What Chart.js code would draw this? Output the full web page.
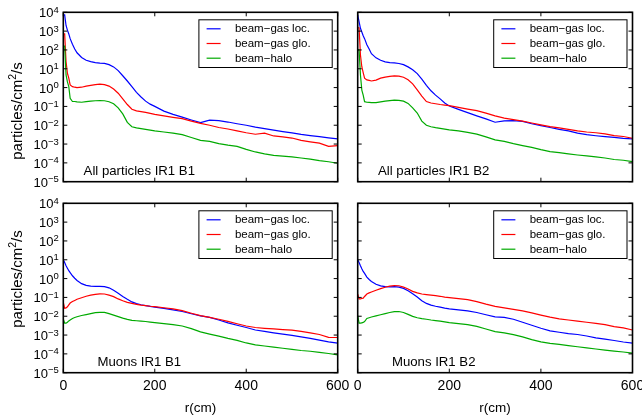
<!DOCTYPE html>
<html lang="en">
<head>
<meta charset="UTF-8" />
<title>Particle flux vs r, IR1</title>
<style>
    body { margin: 0; background: #fff; }
    #wrap { position: relative; width: 642px; height: 418px; }
    #wrap canvas { position: absolute; left: 0; top: 0; }
</style>
</head>
<body>
<div id="wrap">
    <canvas id="c1" width="642" height="418"></canvas>
    <canvas id="c2" width="642" height="418"></canvas>
    <canvas id="c3" width="642" height="418"></canvas>
    <canvas id="c4" width="642" height="418"></canvas>
</div>
<script src="https://cdn.jsdelivr.net/npm/chart.js@4.4.0/dist/chart.umd.min.js"></script>
<script>
// radius in cm
const R = [0, 3, 6, 9, 12, 15, 20, 25, 30,
    40, 50, 60, 70, 80, 90, 100, 110, 120, 130, 140, 150, 160, 170, 180, 190, 200,
    220, 240, 260, 280, 300, 320, 340, 360, 380, 400, 420, 440, 460, 480, 500, 520, 540, 560, 580, 600];

// values, stored as powers of ten (particles/cm2/s)
const allB1Loc = [3.86, 3.86, 3.3, 3.05, 2.85, 2.6, 2.3, 2.05, 1.85,
    1.6, 1.45, 1.38, 1.33, 1.3, 1.29, 1.22, 1.1, 0.9, 0.63, 0.35, 0.05, -0.25, -0.5, -0.72, -0.88, -1.0,
    -1.25, -1.42, -1.57, -1.72, -1.86, -1.73, -1.76, -1.83, -1.92, -2.0, -2.1, -2.18, -2.26, -2.34, -2.41, -2.49, -2.55, -2.61, -2.67, -2.72];
const allB1Glo = [2.85, 2.85, 1.38, 0.76, 0.5, 0.14, 0.05, 0.02, 0.0,
    0.02, 0.08, 0.12, 0.16, 0.18, 0.16, 0.08, -0.08, -0.3, -0.6, -0.9, -1.15, -1.24, -1.28, -1.32, -1.37, -1.42,
    -1.5, -1.58, -1.65, -1.78, -1.9, -2.0, -2.12, -2.2, -2.3, -2.4, -2.48, -2.42, -2.57, -2.62, -2.68, -2.8, -2.88, -2.95, -3.12, -3.08];
const allB1Halo = [2.2, 2.2, 0.67, 0.3, 0.05, -0.57, -0.74, -0.74, -0.76,
    -0.78, -0.75, -0.72, -0.7, -0.69, -0.7, -0.75, -0.86, -1.08, -1.4, -1.85, -2.08, -2.14, -2.18, -2.22, -2.26, -2.3,
    -2.36, -2.42, -2.5, -2.65, -2.8, -2.86, -2.98, -3.06, -3.12, -3.28, -3.42, -3.52, -3.6, -3.64, -3.68, -3.74, -3.8, -3.88, -3.94, -4.02];

const allB2Loc = [3.86, 3.5, 3.15, 2.95, 2.75, 2.6, 2.28, 2.05, 1.8,
    1.58, 1.45, 1.37, 1.33, 1.31, 1.28, 1.22, 1.1, 0.95, 0.74, 0.45, 0.12, -0.17, -0.4, -0.6, -0.82, -0.98,
    -1.16, -1.33, -1.5, -1.66, -1.84, -1.77, -1.76, -1.8, -1.92, -2.02, -2.12, -2.22, -2.3, -2.42, -2.5, -2.56, -2.61, -2.65, -2.7, -2.73];
const allB2Glo = [3.18, 3.18, 1.73, 1.11, 0.8, 0.5, 0.41, 0.38, 0.35,
    0.4, 0.5, 0.56, 0.6, 0.62, 0.61, 0.55, 0.42, 0.2, -0.12, -0.45, -0.74, -0.82, -0.86, -0.9, -0.93, -0.96,
    -1.05, -1.14, -1.22, -1.36, -1.5, -1.62, -1.7, -1.78, -1.88, -1.98, -2.07, -2.14, -2.22, -2.3, -2.36, -2.4, -2.46, -2.55, -2.6, -2.69];
const allB2Halo = [2.0, 2.0, 0.67, -0.13, -0.4, -0.75, -0.78, -0.79, -0.8,
    -0.8, -0.76, -0.72, -0.69, -0.67, -0.68, -0.72, -0.84, -1.08, -1.35, -1.78, -2.0, -2.08, -2.13, -2.17, -2.21, -2.25,
    -2.3, -2.38, -2.47, -2.62, -2.78, -2.86, -2.98, -3.08, -3.18, -3.3, -3.4, -3.46, -3.52, -3.58, -3.63, -3.68, -3.74, -3.82, -3.86, -3.93];

const muB1Loc = [1.0, 0.85, 0.68, 0.55, 0.42, 0.32, 0.15, 0.02, -0.1,
    -0.27, -0.36, -0.4, -0.41, -0.41, -0.43, -0.49, -0.62, -0.78, -0.95, -1.1, -1.24, -1.33, -1.39, -1.44, -1.48, -1.52,
    -1.58, -1.66, -1.75, -1.87, -1.98, -2.06, -2.2, -2.35, -2.48, -2.6, -2.73, -2.8, -2.88, -2.95, -3.02, -3.1, -3.18, -3.27, -3.36, -3.43];
const muB1Glo = [-1.26, -1.58, -1.56, -1.5, -1.4, -1.3, -1.22, -1.16, -1.1,
    -1.02, -0.94, -0.88, -0.84, -0.81, -0.82, -0.88, -0.96, -1.08, -1.18, -1.26, -1.32, -1.37, -1.41, -1.44, -1.47, -1.49,
    -1.55, -1.61, -1.7, -1.84, -1.97, -2.06, -2.16, -2.27, -2.4, -2.52, -2.6, -2.64, -2.67, -2.71, -2.74, -2.8, -2.88, -2.97, -3.12, -3.13];
const muB1Halo = [-2.14, -2.37, -2.37, -2.32, -2.25, -2.2, -2.12, -2.07, -2.03,
    -1.96, -1.91, -1.86, -1.81, -1.79, -1.8, -1.86, -1.94, -2.02, -2.1, -2.17, -2.22, -2.24, -2.26, -2.28, -2.31, -2.34,
    -2.39, -2.45, -2.52, -2.66, -2.83, -2.95, -3.06, -3.18, -3.28, -3.42, -3.52, -3.58, -3.64, -3.7, -3.76, -3.82, -3.86, -3.92, -3.98, -4.05];

const muB2Loc = [1.0, 0.85, 0.68, 0.52, 0.38, 0.28, 0.08, -0.05, -0.15,
    -0.3, -0.39, -0.43, -0.44, -0.43, -0.45, -0.52, -0.65, -0.8, -0.98, -1.18, -1.32, -1.41, -1.47, -1.52, -1.57, -1.61,
    -1.66, -1.72, -1.8, -1.92, -2.03, -2.06, -2.16, -2.32, -2.48, -2.64, -2.78, -2.85, -2.92, -2.97, -3.05, -3.15, -3.22, -3.29, -3.37, -3.43];
const muB2Glo = [-0.83, -1.08, -1.08, -1.06, -1.04, -0.95, -0.82, -0.76, -0.71,
    -0.62, -0.53, -0.46, -0.4, -0.37, -0.38, -0.45, -0.55, -0.68, -0.76, -0.82, -0.85, -0.88, -0.91, -0.94, -0.98, -1.01,
    -1.06, -1.12, -1.22, -1.36, -1.48, -1.56, -1.64, -1.72, -1.82, -1.94, -2.05, -2.14, -2.2, -2.26, -2.32, -2.38, -2.45, -2.55, -2.62, -2.73];
const muB2Halo = [-1.96, -2.37, -2.37, -2.35, -2.33, -2.28, -2.12, -2.08, -2.04,
    -1.98, -1.92, -1.86, -1.8, -1.76, -1.75, -1.8, -1.9, -2.01, -2.08, -2.13, -2.16, -2.2, -2.23, -2.26, -2.3, -2.34,
    -2.39, -2.45, -2.54, -2.68, -2.82, -2.88, -2.98, -3.1, -3.24, -3.36, -3.44, -3.5, -3.56, -3.62, -3.68, -3.74, -3.8, -3.85, -3.9, -3.96];

const seriesNames = ["beam\u2212gas loc.", "beam\u2212gas glo.", "beam\u2212halo"];
const seriesColors = ["#0000ff", "#ff0000", "#00aa00"];
const xTicks = [0, 200, 400, 600];
const yDecades = [-5, -4, -3, -2, -1, 0, 1, 2, 3, 4];
const FONT = '"Liberation Sans", Arial, sans-serif';

const panels = [
    { id: "c1", box: [63.3, 12.3, 337.7, 181.7], title: "All particles IR1 B1", data: [allB1Loc, allB1Glo, allB1Halo], yAxis: true, xAxis: false, yTitleY: 111 },
    { id: "c2", box: [357.7, 12.3, 632.5, 181.7], title: "All particles IR1 B2", data: [allB2Loc, allB2Glo, allB2Halo], yAxis: false, xAxis: false },
    { id: "c3", box: [63.3, 203.3, 337.7, 372.7], title: "Muons IR1 B1", data: [muB1Loc, muB1Glo, muB1Halo], yAxis: true, xAxis: true, yTitleY: 279 },
    { id: "c4", box: [357.7, 203.3, 632.5, 372.7], title: "Muons IR1 B2", data: [muB2Loc, muB2Glo, muB2Halo], yAxis: false, xAxis: true },
];

const decor = {
    id: "decor",
    afterDraw(chart, args, o) {
        const { ctx, chartArea: a } = chart;
        const xs = chart.scales.x, ys = chart.scales.y;
        ctx.save();

        // inward ticks on all four sides
        ctx.strokeStyle = "#000";
        ctx.lineWidth = 1;
        ctx.beginPath();
        yDecades.forEach((e) => {
            const py = ys.getPixelForValue(Math.pow(10, e));
            ctx.moveTo(a.left, py); ctx.lineTo(a.left + 4, py);
            ctx.moveTo(a.right, py); ctx.lineTo(a.right - 4, py);
        });
        xTicks.forEach((v) => {
            const px = xs.getPixelForValue(v);
            ctx.moveTo(px, a.top); ctx.lineTo(px, a.top + 4);
            ctx.moveTo(px, a.bottom); ctx.lineTo(px, a.bottom - 4);
        });
        ctx.stroke();
        ctx.lineWidth = 1.6;
        ctx.strokeRect(a.left, a.top, a.right - a.left, a.bottom - a.top);

        ctx.fillStyle = "#000";
        ctx.textBaseline = "alphabetic";
        if (o.yAxis) {
            const right = a.left - 4.5;
            yDecades.forEach((e) => {
                const py = ys.getPixelForValue(Math.pow(10, e));
                const sup = e < 0 ? "\u2212" + (-e) : String(e);
                ctx.font = "9.5px " + FONT;
                const ws = ctx.measureText(sup).width;
                ctx.textAlign = "left";
                ctx.fillText(sup, right - ws, py + 0.5);
                ctx.font = "13px " + FONT;
                ctx.textAlign = "right";
                ctx.fillText("10", right - ws, py + 5);
            });
            // y title with superscript
            ctx.save();
            ctx.translate(17.5, o.yTitleY);
            ctx.rotate(-Math.PI / 2);
            const big = "15px " + FONT, small = "10.5px " + FONT;
            ctx.font = big;
            const w1 = ctx.measureText("particles/cm").width;
            const w3 = ctx.measureText("/s").width;
            ctx.font = small;
            const w2 = ctx.measureText("2").width;
            let x0 = -(w1 + w2 + w3) / 2;
            ctx.textAlign = "left";
            ctx.font = big;
            ctx.fillText("particles/cm", x0, 4.5);
            ctx.font = small;
            ctx.fillText("2", x0 + w1, -1.5);
            ctx.font = big;
            ctx.fillText("/s", x0 + w1 + w2, 4.5);
            ctx.restore();
        }
        if (o.xAxis) {
            ctx.font = "14px " + FONT;
            ctx.textAlign = "center";
            xTicks.forEach((v) => ctx.fillText(String(v), xs.getPixelForValue(v), a.bottom + 17.5));
            ctx.font = "13.5px " + FONT;
            ctx.fillText("r(cm)", (a.left + a.right) / 2, 412);
        }

        // panel caption
        ctx.font = "13.2px " + FONT;
        ctx.textAlign = "center";
        ctx.fillText(o.title, a.left + 76, a.bottom - 7);

        // legend box
        const bw = 133.3, bh = 47.7;
        const bx = a.right - 5.5 - bw, by = a.top + 7.5;
        ctx.fillStyle = "#fff";
        ctx.fillRect(bx, by, bw, bh);
        ctx.strokeStyle = "#000";
        ctx.lineWidth = 1;
        ctx.strokeRect(bx, by, bw, bh);
        ctx.font = "11.5px " + FONT;
        ctx.textAlign = "left";
        ctx.textBaseline = "middle";
        chart.data.datasets.forEach((ds, i) => {
            const ly = by + 9 + i * 14.7;
            ctx.strokeStyle = ds.borderColor;
            ctx.lineWidth = 1.2;
            ctx.beginPath();
            ctx.moveTo(bx + 7.7, ly);
            ctx.lineTo(bx + 21.7, ly);
            ctx.stroke();
            ctx.fillStyle = "#000";
            ctx.fillText(ds.label, bx + 36, ly + 0.5);
        });
        ctx.restore();
    },
};

panels.forEach((p) => {
    const [l, t, r, b] = p.box;
    const datasets = p.data.map((vals, i) => ({
        label: seriesNames[i],
        data: R.map((x, k) => ({ x: x, y: Math.pow(10, vals[k]) })),
        borderColor: seriesColors[i],
        borderWidth: 1.2,
        tension: 0,
        pointRadius: 0,
        fill: false,
        order: 3 - i,
    }));
    new Chart(document.getElementById(p.id), {
        type: "line",
        data: { datasets: datasets },
        options: {
            responsive: false,
            animation: false,
            layout: { padding: { left: l, top: t, right: 642 - r, bottom: 418 - b } },
            scales: {
                x: { type: "linear", min: 0, max: 600, display: false },
                y: { type: "logarithmic", min: 1e-5, max: 1e4, display: false },
            },
            plugins: {
                legend: { display: false },
                tooltip: { enabled: false },
                decor: p,
            },
        },
        plugins: [decor],
    });
});
</script>
</body>
</html>
